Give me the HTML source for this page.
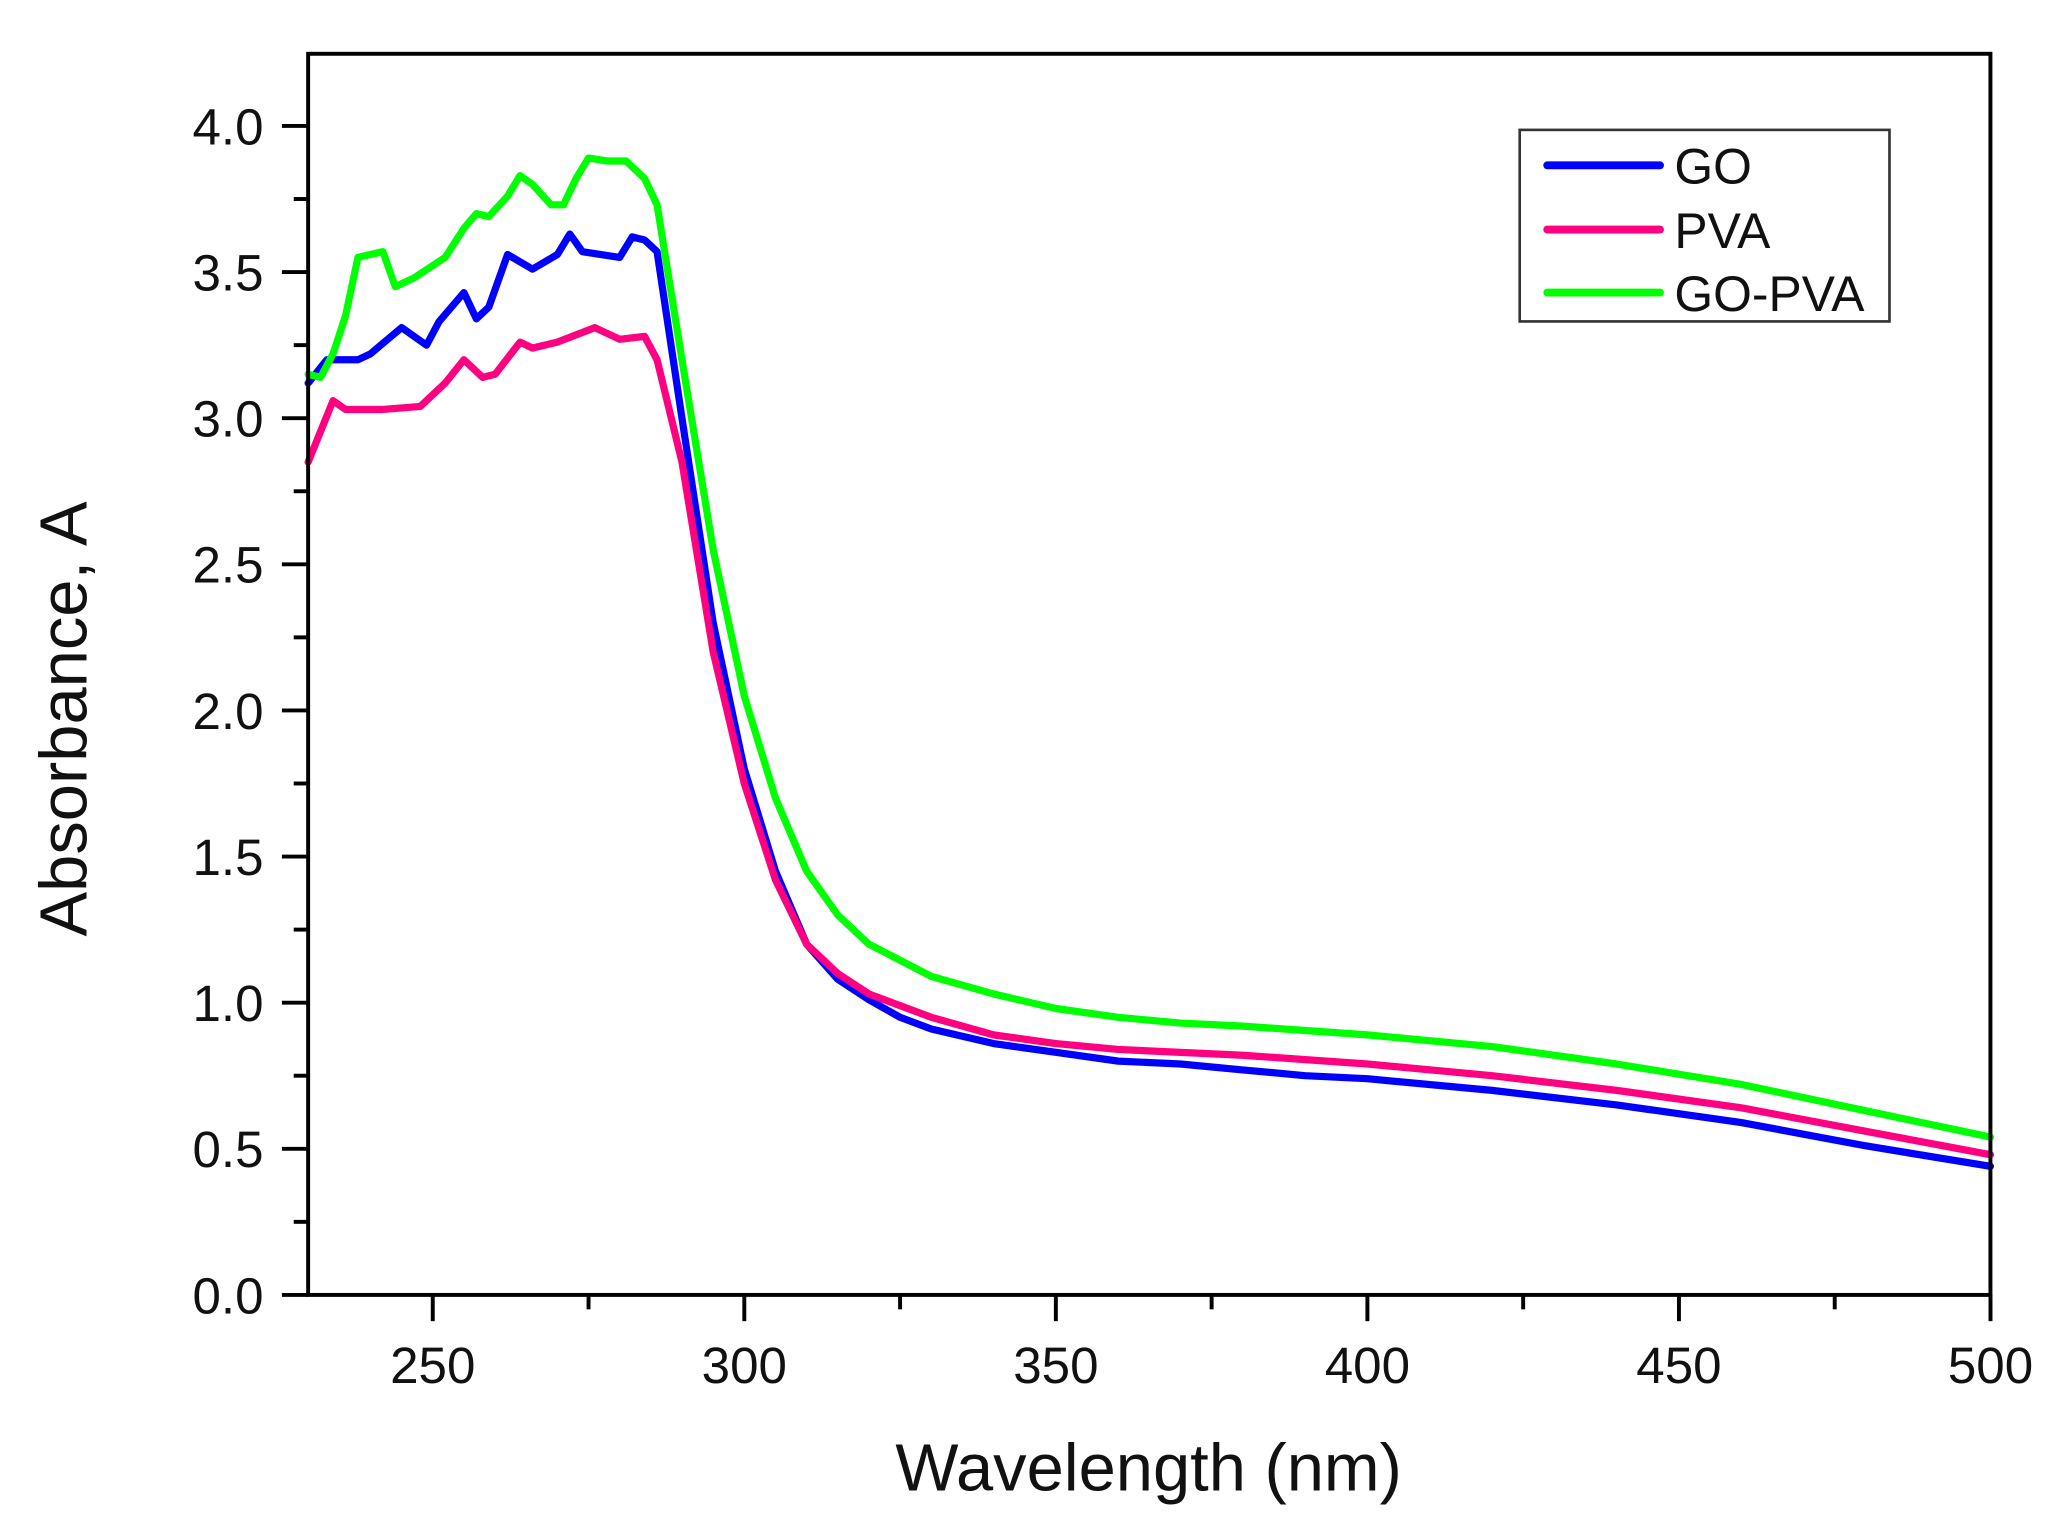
<!DOCTYPE html>
<html><head><meta charset="utf-8"><style>html,body{margin:0;padding:0;background:#fff}svg{display:block}</style></head>
<body>
<svg id="s" width="2056" height="1535" viewBox="0 0 1568 1170" preserveAspectRatio="none" xmlns="http://www.w3.org/2000/svg" font-family="Liberation Sans, Arial, sans-serif">
<rect width="1568" height="1170" fill="#fff"/>
<g id="series" fill="none" stroke-width="5.5" stroke-linejoin="round" stroke-linecap="round"></g>
<rect x="235" y="41" width="1283" height="946" fill="none" stroke="#000" stroke-width="3"/>
<g id="ticks" stroke="#000" stroke-width="3"></g>
<g font-size="39" fill="#111" text-anchor="end" id="ylab"></g>
<g font-size="39" fill="#111" text-anchor="middle" id="xlab"></g>
<text x="876" y="1136" font-size="51" text-anchor="middle" fill="#111">Wavelength (nm)</text>
<text transform="translate(66,548) rotate(-90)" font-size="51" text-anchor="middle" fill="#111">Absorbance, A</text>
<rect x="1159" y="99" width="282" height="146" fill="#fff" stroke="#333" stroke-width="2"/>
<line x1="1180" y1="126" x2="1266" y2="126" stroke="#0000ff" stroke-width="6" stroke-linecap="round"/>
<line x1="1180" y1="175" x2="1266" y2="175" stroke="#ff0080" stroke-width="6" stroke-linecap="round"/>
<line x1="1180" y1="223" x2="1266" y2="223" stroke="#00ff00" stroke-width="6" stroke-linecap="round"/>
<text x="1277" y="140" font-size="38" fill="#111">GO</text>
<text x="1277" y="189" font-size="38" fill="#111">PVA</text>
<text x="1277" y="237" font-size="38" fill="#111">GO-PVA</text>
</svg>
<script>
var NS="http://www.w3.org/2000/svg";
function X(l){return 235+(l-230)*4.752}
function Y(a){return 987-a*222.75}
var GO=[230,3.12,233,3.2,238,3.2,240,3.22,245,3.31,249,3.25,251,3.33,255,3.43,257,3.34,259,3.38,262,3.56,266,3.51,270,3.56,272,3.63,274,3.57,280,3.55,282,3.62,284,3.61,286,3.57,290,3.0,295,2.3,300,1.8,305,1.45,310,1.2,315,1.08,320,1.01,325,0.95,330,0.91,340,0.86,350,0.83,360,0.8,370,0.79,380,0.77,390,0.75,400,0.74,420,0.7,440,0.65,460,0.59,480,0.51,500,0.44];
var PVA=[230,2.85,234,3.06,236,3.03,242,3.03,248,3.04,252,3.12,255,3.2,258,3.14,260,3.15,264,3.26,266,3.24,270,3.26,276,3.31,280,3.27,284,3.28,286,3.2,290,2.85,295,2.2,300,1.75,305,1.42,310,1.2,315,1.1,320,1.03,330,0.95,340,0.89,350,0.86,360,0.84,380,0.82,400,0.79,420,0.75,440,0.7,460,0.64,480,0.56,500,0.48];
var GP=[230,3.15,232,3.14,234,3.22,236,3.35,238,3.55,242,3.57,244,3.45,247,3.48,252,3.55,255,3.65,257,3.7,259,3.69,262,3.76,264,3.83,266,3.8,269,3.73,271,3.73,273,3.82,275,3.89,278,3.88,281,3.88,284,3.82,286,3.73,290,3.2,295,2.55,300,2.05,305,1.7,310,1.45,315,1.3,320,1.2,330,1.09,340,1.03,350,0.98,360,0.95,370,0.93,380,0.92,400,0.89,420,0.85,440,0.79,460,0.72,480,0.63,500,0.54];
var g=document.getElementById("series");
[[GO,"#0000ff"],[PVA,"#ff0080"],[GP,"#00ff00"]].forEach(function(s){
 var d=s[0],p=[];for(var i=0;i<d.length;i+=2)p.push(X(d[i]).toFixed(1)+","+Y(d[i+1]).toFixed(1));
 var e=document.createElementNS(NS,"polyline");e.setAttribute("points",p.join(" "));e.setAttribute("stroke",s[1]);g.appendChild(e);});
var t=document.getElementById("ticks"),yl=document.getElementById("ylab"),xl=document.getElementById("xlab");
function L(x1,y1,x2,y2){var e=document.createElementNS(NS,"line");e.setAttribute("x1",x1);e.setAttribute("y1",y1);e.setAttribute("x2",x2);e.setAttribute("y2",y2);t.appendChild(e);}
for(var k=0;k<=16;k++){var a=k*0.25,y=Y(a);
 if(k%2==0){L(215,y,235,y);var tx=document.createElementNS(NS,"text");tx.setAttribute("x",201);tx.setAttribute("y",y+14);tx.textContent=(a).toFixed(1);yl.appendChild(tx);}
 else L(224,y,235,y);}
for(var l=250;l<=500;l+=25){var x=X(l);
 if(l%50==0){L(x,987,x,1007);var tx=document.createElementNS(NS,"text");tx.setAttribute("x",x);tx.setAttribute("y",1054);tx.textContent=l;xl.appendChild(tx);}
 else L(x,987,x,998);}
</script>
</body></html>
